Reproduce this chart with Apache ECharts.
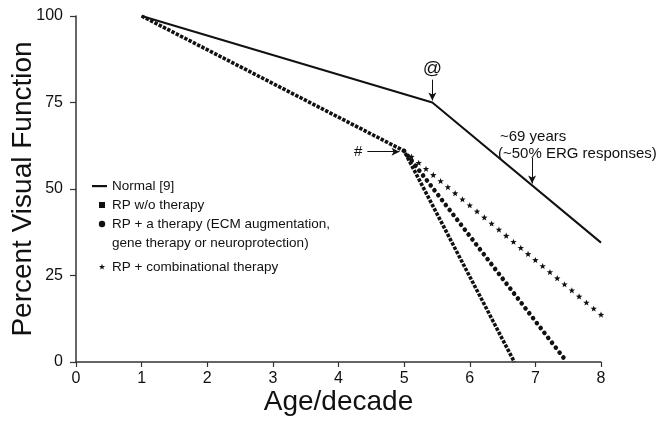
<!DOCTYPE html>
<html>
<head>
<meta charset="utf-8">
<script src="https://cdn.jsdelivr.net/npm/echarts@6/dist/echarts.min.js"></script>
<style>
  html, body { margin: 0; padding: 0; background: #fff; }
  #chart { width: 662px; height: 426px; }
</style>
</head>
<body>
<div id="chart"></div>
<script>
// values
var normalAge = [1, 5.43, 8];
var normalPct = [100, 75, 34.5];
var rpAge = [1, 5, 6.68];          // RP w/o therapy
var rpPct = [100, 61, 0];
var rpOneAge = [5, 7.48];          // RP + a therapy
var rpOnePct = [61, 0];
var rpComboAge = [5, 8];           // RP + combinational therapy
var rpComboPct = [61, 13.6];
var xTicks = [0, 1, 2, 3, 4, 5, 6, 7, 8];
var yTicks = [0, 25, 50, 75, 100];

var FONT = '"Liberation Sans", Arial, sans-serif';
var INK = '#111';

function pairs(xs, ys) {
  return xs.map(function (x, i) { return [x, ys[i]]; });
}

function starPoints(cx, cy, r) {
  var pts = [];
  for (var k = 0; k < 10; k++) {
    var rr = k % 2 === 0 ? r : r * 0.42;
    var a = -Math.PI / 2 + k * Math.PI / 5;
    pts.push([cx + rr * Math.cos(a), cy + rr * Math.sin(a)]);
  }
  return pts;
}

// draws the combinational-therapy segment as a row of little stars
function renderStars(params, api) {
  var i = params.dataIndex;
  if (i >= rpComboAge.length - 1) return;
  var p0 = api.coord([rpComboAge[i], rpComboPct[i]]);
  var p1 = api.coord([rpComboAge[i + 1], rpComboPct[i + 1]]);
  var dx = p1[0] - p0[0], dy = p1[1] - p0[1];
  var n = Math.round(Math.sqrt(dx * dx + dy * dy) / 9.6);
  var kids = [];
  for (var k = 1; k <= n; k++) {
    var t = k / n;
    kids.push({
      type: 'polygon',
      shape: { points: starPoints(p0[0] + dx * t, p0[1] + dy * t, 3.4) },
      style: { fill: INK }
    });
  }
  return { type: 'group', children: kids };
}

function arrowLine(from, to) {
  return [{ coord: from }, { coord: to }];
}

function textMark(txt, coord, size, align) {
  return {
    coord: coord, value: txt,
    label: { formatter: txt, fontSize: size, align: align || 'center' }
  };
}

function legendText(txt, y) {
  return { type: 'text', x: 20, y: y, style: { text: txt, font: '13.5px ' + FONT, fill: INK, verticalAlign: 'middle' } };
}

var chart = echarts.init(document.getElementById('chart'));
chart.setOption({
  backgroundColor: '#fff',
  animation: false,
  textStyle: { fontFamily: FONT },
  grid: { left: 76, right: 61, top: 16, bottom: 64, containLabel: false, outerBoundsMode: 'none' },
  xAxis: {
    type: 'value', min: xTicks[0], max: xTicks[xTicks.length - 1], interval: 1,
    name: 'Age/decade', nameLocation: 'middle', nameGap: 26, nameMoveOverlap: false,
    nameTextStyle: { fontSize: 28, color: INK, fontFamily: FONT },
    axisLine: { lineStyle: { color: '#333', width: 1.5 } },
    axisTick: { length: 5, lineStyle: { color: '#333', width: 1.2 } },
    axisLabel: { fontSize: 16, color: INK, margin: 9, fontFamily: FONT },
    splitLine: { show: false }
  },
  yAxis: {
    type: 'value', min: yTicks[0], max: yTicks[yTicks.length - 1], interval: 25,
    name: 'Percent Visual Function', nameLocation: 'middle', nameGap: 39, nameMoveOverlap: false,
    nameTextStyle: { fontSize: 28, color: INK, fontFamily: FONT },
    axisLine: { show: true, lineStyle: { color: '#333', width: 1.5 } },
    axisTick: { show: true, length: 6, lineStyle: { color: '#333', width: 1.2 } },
    axisLabel: { fontSize: 16, color: INK, margin: 13, fontFamily: FONT },
    splitLine: { show: false }
  },
  series: [
    {
      name: 'Normal [9]', type: 'line', data: pairs(normalAge, normalPct),
      symbol: 'none', lineStyle: { color: INK, width: 2 },
      markLine: {
        silent: true, symbol: ['none', 'arrow'], symbolSize: [6, 8],
        label: { show: false },
        lineStyle: { color: INK, width: 1, type: 'solid' },
        data: [arrowLine([5.43, 81.6], [5.43, 75.6]), arrowLine([6.95, 59], [6.95, 51.6])]
      },
      markPoint: {
        symbol: 'circle', symbolSize: 1, itemStyle: { color: 'transparent' },
        label: { show: true, position: 'inside', color: INK, fontFamily: FONT },
        data: [
          textMark('@', [5.43, 84.8], 19),
          textMark('~69 years', [6.46, 65.2], 15, 'left'),
          textMark('(~50% ERG responses)', [6.43, 60.3], 15, 'left')
        ]
      }
    },
    {
      name: 'RP w/o therapy', type: 'line', data: pairs(rpAge, rpPct),
      symbol: 'none',
      lineStyle: { color: INK, width: 3.6, type: [3.4, 1.4], cap: 'butt' },
      markLine: {
        silent: true, symbol: ['none', 'arrow'], symbolSize: [6, 8],
        label: { show: false },
        lineStyle: { color: INK, width: 1, type: 'solid' },
        data: [arrowLine([4.44, 60.8], [4.93, 60.8])]
      },
      markPoint: {
        symbol: 'circle', symbolSize: 1, itemStyle: { color: 'transparent' },
        label: { show: true, position: 'inside', color: INK, fontFamily: FONT },
        data: [textMark('#', [4.3, 60.8], 15)]
      }
    },
    {
      name: 'RP + a therapy', type: 'line', data: pairs(rpOneAge, rpOnePct),
      symbol: 'none',
      lineStyle: { color: INK, width: 4.6, type: [0.01, 6.2], cap: 'round' }
    },
    {
      name: 'RP + combinational therapy', type: 'custom',
      data: pairs(rpComboAge, rpComboPct), renderItem: renderStars
    }
  ],
  graphic: [{
    type: 'group', left: 92, top: 179,
    children: [
      { type: 'rect', shape: { x: 0, y: 5, width: 15, height: 2.2 }, style: { fill: INK } },
      legendText('Normal [9]', 6),
      { type: 'rect', shape: { x: 7, y: 22, width: 6, height: 6 }, style: { fill: INK } },
      legendText('RP w/o therapy', 25),
      { type: 'circle', shape: { cx: 10, cy: 44, r: 3.2 }, style: { fill: INK } },
      legendText('RP + a therapy (ECM augmentation,', 44),
      legendText('gene therapy or neuroprotection)', 63),
      { type: 'polygon', shape: { points: starPoints(10, 87, 3.2) }, style: { fill: INK } },
      legendText('RP + combinational therapy', 87)
    ]
  }]
});
</script>
</body>
</html>
